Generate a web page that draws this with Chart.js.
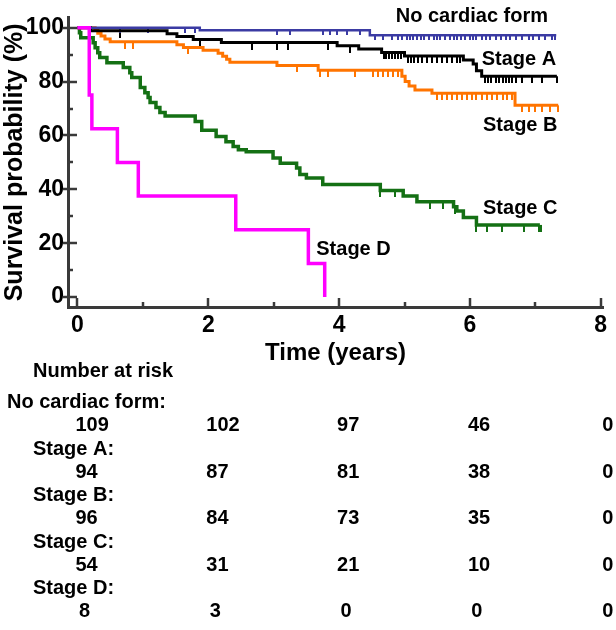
<!DOCTYPE html>
<html><head><meta charset="utf-8">
<script src="https://cdn.jsdelivr.net/npm/chart.js@4.4.1/dist/chart.umd.min.js"></script>
<style>html,body{margin:0;padding:0;background:#fff;overflow:hidden}</style>
</head><body>
<canvas id="c" width="616" height="630" style="width:616px;height:630px;display:block"></canvas>
<script>
// ---------- data ----------
const seriesNames = ['No cardiac form', 'Stage A', 'Stage B', 'Stage C', 'Stage D'];

const noCardiacTimes = [0, 1.87, 4.47, 7.32];
const noCardiacSurv  = [100, 99.1, 97.2, 97.2];
const noCardiacCensor = [0.65, 1.08, 1.64, 1.80, 3.05, 3.25, 3.75, 3.86, 3.97, 4.12, 4.32, 4.55, 4.67, 4.81, 4.90, 4.96, 5.04, 5.08, 5.13, 5.19, 5.25, 5.30, 5.38, 5.45, 5.50, 5.55, 5.62, 5.70, 5.75, 5.80, 5.87, 5.92, 6.00, 6.05, 6.10, 6.18, 6.25, 6.30, 6.40, 6.48, 6.55, 6.62, 6.70, 6.80, 6.90, 6.97, 7.05, 7.15, 7.25, 7.30];

const stageATimes = [0, 0.2, 1.37, 1.52, 1.77, 2.2, 3.97, 4.3, 4.65, 5.0, 5.9, 6.05, 6.1, 6.18, 7.33];
const stageASurv  = [100, 98.9, 97.8, 96.7, 95.6, 94.5, 93.3, 92.1, 90.8, 89.5, 88.0, 86.5, 84.0, 82.0, 82.0];
const stageACensor = [0.65, 1.87, 2.67, 3.05, 3.22, 3.83, 4.17, 4.68, 4.72, 4.77, 4.81, 4.86, 4.90, 4.95, 5.05, 5.10, 5.15, 5.20, 5.27, 5.35, 5.42, 5.50, 5.57, 5.65, 5.72, 5.80, 5.85, 6.23, 6.28, 6.33, 6.40, 6.45, 6.50, 6.55, 6.60, 6.65, 6.70, 6.80, 6.95, 7.10, 7.33];

const stageBTimes = [0, 0.27, 0.31, 0.36, 0.42, 0.5, 1.52, 1.62, 1.92, 2.15, 2.22, 2.28, 2.33, 3.05, 3.68, 4.96, 5.01, 5.07, 5.16, 5.42, 6.69, 7.35];
const stageBSurv  = [100, 99.0, 97.9, 96.9, 95.8, 94.8, 93.7, 92.7, 91.6, 90.5, 89.4, 88.3, 87.2, 86.0, 84.2, 82.0, 80.0, 78.4, 76.9, 75.7, 71.2, 71.2];
const stageBCensor = [0.73, 0.85, 1.69, 3.35, 3.71, 3.83, 4.24, 4.52, 4.60, 4.67, 4.75, 4.82, 4.90, 5.50, 5.57, 5.65, 5.72, 5.80, 5.88, 5.95, 6.03, 6.10, 6.18, 6.26, 6.34, 6.42, 6.50, 6.57, 6.65, 6.80, 6.90, 7.00, 7.10, 7.22, 7.35];

const stageCTimes = [0, 0.03, 0.05, 0.24, 0.27, 0.31, 0.34, 0.45, 0.70, 0.80, 0.83, 0.96, 1.03, 1.08, 1.11, 1.20, 1.26, 1.34, 1.80, 1.90, 2.12, 2.27, 2.38, 2.46, 2.58, 2.99, 3.10, 3.35, 3.40, 3.50, 3.75, 4.63, 4.98, 5.19, 5.75, 5.80, 5.90, 6.10, 7.07];
const stageCSurv  = [100, 98.1, 96.3, 94.4, 92.6, 90.7, 88.9, 87.0, 85.2, 83.3, 81.5, 77.8, 75.9, 74.1, 72.2, 70.4, 68.5, 67.2, 65.2, 61.9, 59.6, 57.7, 55.9, 54.7, 54.0, 51.6, 49.7, 47.9, 45.5, 44.2, 41.8, 39.6, 37.5, 35.4, 33.5, 32.0, 29.5, 26.8, 26.8];
const stageCCensor = [4.63, 4.85, 5.39, 5.59, 5.77, 6.10, 6.26, 6.49, 6.83, 7.05, 7.08];

const stageDTimes = [0, 0.18, 0.22, 0.61, 0.93, 2.42, 3.53, 3.78];
const stageDSurv  = [100, 75, 62.5, 50, 37.5, 25, 12.5, 0];
const stageDCensor = [];

const xTickValues = [0, 1, 2, 3, 4, 5, 6, 7, 8];
const yTickValues = [0, 10, 20, 30, 40, 50, 60, 70, 80, 90, 100];

const riskTimes = [0, 2, 4, 6, 8];
const riskNoCardiac = [109, 102, 97, 46, 0];
const riskStageA = [94, 87, 81, 38, 0];
const riskStageB = [96, 84, 73, 35, 0];
const riskStageC = [54, 31, 21, 10, 0];
const riskStageD = [8, 3, 0, 0, 0];

// ---------- styling ----------
const FONT = '"Liberation Sans", Arial, Helvetica, sans-serif';
const AXIS = '#3a3a3a';
const colors = ['#3b3ba3', '#000000', '#ff7400', '#147014', '#ff00ff'];
const widths = [2.5, 3, 3, 3.5, 3.5];

const curves = [
  [noCardiacTimes, noCardiacSurv, noCardiacCensor],
  [stageATimes, stageASurv, stageACensor],
  [stageBTimes, stageBSurv, stageBCensor],
  [stageCTimes, stageCSurv, stageCCensor],
  [stageDTimes, stageDSurv, stageDCensor]
];
const riskRows = [riskNoCardiac, riskStageA, riskStageB, riskStageC, riskStageD];

function survAt(times, surv, t) {
  let s = surv[0];
  for (let i = 0; i < times.length; i++) { if (times[i] <= t) s = surv[i]; else break; }
  return s;
}
function censorMark(color, len) {
  const c = document.createElement('canvas');
  c.width = 2; c.height = len * 2;
  const g = c.getContext('2d');
  g.fillStyle = color; g.fillRect(0, len, 2, len);
  return c;
}

// draw order: Stage D on top, then No cardiac, A, B, C
const drawOrder = [4, 0, 1, 2, 3];
const datasets = [];
drawOrder.forEach(i => {
  const [ts, ss] = curves[i];
  datasets.push({
    label: seriesNames[i],
    data: ts.map((t, k) => ({x: t, y: ss[k]})),
    borderColor: colors[i], borderWidth: widths[i],
    stepped: 'before', pointRadius: 0, fill: false, tension: 0,
    borderCapStyle: 'butt', borderJoinStyle: 'miter'
  });
});
drawOrder.forEach(i => {
  const [ts, ss, cs] = curves[i];
  if (!cs.length) return;
  datasets.push({
    label: seriesNames[i] + ' censored',
    type: 'scatter', showLine: false,
    data: cs.map(t => ({x: t, y: survAt(ts, ss, t)})),
    pointStyle: censorMark(colors[i], i === 0 ? 5 : 7),
    pointRadius: 3, pointHoverRadius: 3,
    borderColor: colors[i], backgroundColor: colors[i]
  });
});

// curve-label anchors (data units)
const curveLabelAnchors = [
  {text: 'No cardiac form', x: 6.03, y: 104.2},
  {text: 'Stage A', x: 6.75, y: 88.2},
  {text: 'Stage B', x: 6.77, y: 63.6},
  {text: 'Stage C', x: 6.77, y: 32.8},
  {text: 'Stage D', x: 4.22, y: 17.6}
];

const decor = {
  id: 'decor',
  beforeDatasetsDraw(chart) {
    const {ctx, scales: {x, y}, chartArea: a} = chart;
    ctx.save();
    ctx.strokeStyle = AXIS; ctx.lineWidth = 2.5;
    yTickValues.forEach(v => {
      const py = Math.round(y.getPixelForValue(v));
      const major = v % 20 === 0;
      ctx.beginPath();
      ctx.moveTo(major ? a.left - 5 : a.left, py);
      ctx.lineTo(a.left + (major ? 9 : 5), py);
      ctx.stroke();
    });
    xTickValues.forEach(v => {
      const px = Math.round(x.getPixelForValue(v));
      const major = v % 2 === 0;
      ctx.beginPath();
      ctx.moveTo(px, a.bottom);
      ctx.lineTo(px, a.bottom - (major ? 9 : 5));
      ctx.stroke();
    });
    ctx.restore();
  },
  afterDraw(chart) {
    const {ctx, scales: {x, y}} = chart;
    ctx.save();
    ctx.fillStyle = '#000';
    ctx.font = 'bold 20px ' + FONT;
    ctx.textAlign = 'center'; ctx.textBaseline = 'middle';
    curveLabelAnchors.forEach(l => ctx.fillText(l.text, x.getPixelForValue(l.x), y.getPixelForValue(l.y)));

    // number-at-risk table
    ctx.textBaseline = 'alphabetic';
    ctx.textAlign = 'left';
    ctx.fillText('Number at risk', 33, 377);
    const labelBase = [408, 455, 501, 548, 594];
    const numBase = [431, 478, 524, 571, 617];
    riskRows.forEach((row, r) => {
      ctx.textAlign = 'left';
      ctx.fillText(r === 0 ? 'No cardiac form:' : seriesNames[r] + ':', r === 0 ? 7 : 33, labelBase[r]);
      row.forEach((n, c) => {
        const px = x.getPixelForValue(riskTimes[c]);
        const s = String(n);
        if (s.length >= 2) { ctx.textAlign = 'left'; ctx.fillText(s, px - 2, numBase[r]); }
        else { ctx.textAlign = 'center'; ctx.fillText(s, px + 7, numBase[r]); }
      });
    });
    ctx.restore();
  }
};

new Chart(document.getElementById('c'), {
  type: 'line',
  data: {datasets},
  options: {
    responsive: false, animation: false, devicePixelRatio: 1,
    layout: {padding: {top: 15, right: 13, bottom: 255, left: 0}},
    plugins: {legend: {display: false}, tooltip: {enabled: false}},
    scales: {
      x: {
        type: 'linear', min: -0.145, max: 8.035,
        afterBuildTicks: s => { s.ticks = xTickValues.map(v => ({value: v})); },
        afterFit: s => { s.height = 68; },
        grid: {display: false, drawTicks: false},
        border: {display: true, color: AXIS, width: 3},
        ticks: {autoSkip: false, maxRotation: 0, padding: 5, color: '#000',
          font: {family: FONT, size: 23, weight: 'bold'},
          callback: v => (v % 2 === 0 ? String(v) : '')},
        title: {display: true, text: 'Time (years)', color: '#000',
          font: {family: FONT, size: 24, weight: 'bold'}, padding: {top: 0, bottom: 7}}
      },
      y: {
        type: 'linear', min: -3.68, max: 103.68,
        afterBuildTicks: s => { s.ticks = yTickValues.map(v => ({value: v})); },
        afterFit: s => { s.width = 68; },
        grid: {display: false, drawTicks: false},
        border: {display: true, color: AXIS, width: 3},
        ticks: {autoSkip: false, padding: 4, color: '#000',
          font: {family: FONT, size: 23, weight: 'bold'},
          callback: v => (v % 20 === 0 ? String(v) : '')},
        title: {display: true, text: 'Survival probability (%)', color: '#000',
          font: {family: FONT, size: 25, weight: 'bold'}, padding: {top: 0, bottom: 0}}
      }
    }
  },
  plugins: [decor]
});
</script>
</body></html>
